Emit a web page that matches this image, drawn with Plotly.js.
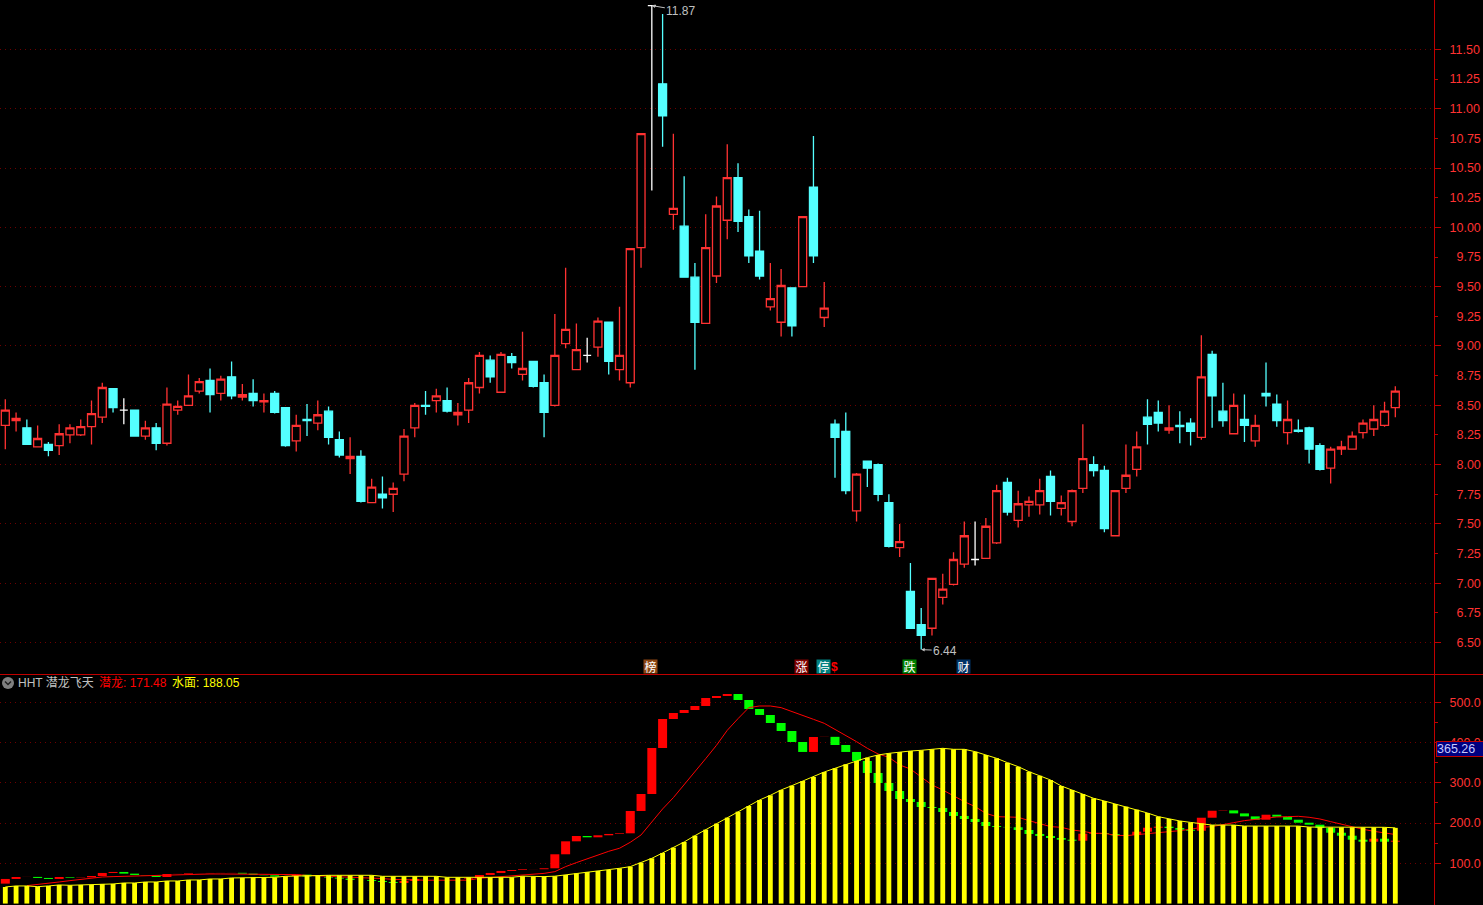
<!DOCTYPE html>
<html>
<head>
<meta charset="utf-8">
<script src="https://cdn.plot.ly/plotly-3.0.1.min.js"></script>
<style>html,body{margin:0;padding:0;background:#000;overflow:hidden}#chart{width:1483px;height:905px}</style>
</head>
<body>
<div id="chart"></div>
<script>
var openP = [
8.33,8.37,8.31,8.15,8.17,8.16,8.25,8.25,8.32,8.40,
8.64,8.46,8.46,8.24,8.31,8.18,8.46,8.50,8.62,8.71,
8.60,8.74,8.57,8.60,8.53,8.60,8.48,8.20,8.38,8.35,
8.45,8.21,8.05,8.07,7.68,7.75,7.75,7.92,8.31,8.50,
8.54,8.54,8.42,8.46,8.65,8.88,8.61,8.91,8.76,8.87,
8.69,8.50,9.02,8.80,8.92,8.99,9.20,8.80,8.69,9.83,
11.87,11.21,10.11,10.01,9.58,9.19,9.59,10.06,10.42,10.09,
9.80,9.33,9.20,9.49,9.50,10.34,9.24,8.34,8.28,7.61,
8.03,8.00,7.68,7.30,6.93,6.65,6.62,6.88,6.99,7.16,
7.20,7.21,7.34,7.85,7.53,7.66,7.66,7.90,7.63,7.52,
7.80,8.00,7.95,7.40,7.80,7.96,8.40,8.44,8.29,8.33,
8.35,8.23,8.93,8.45,8.26,8.38,8.20,8.60,8.51,8.27,
8.29,8.31,8.16,7.97,8.13,8.13,8.27,8.30,8.33,8.48];
var highP = [
8.55,8.44,8.38,8.33,8.19,8.34,8.34,8.38,8.54,8.69,
8.64,8.56,8.46,8.37,8.35,8.65,8.54,8.76,8.73,8.81,
8.75,8.87,8.68,8.72,8.60,8.62,8.48,8.42,8.51,8.54,
8.49,8.28,8.23,8.12,7.88,7.90,7.85,8.30,8.52,8.62,
8.64,8.65,8.52,8.73,8.95,8.92,8.95,8.94,9.12,8.87,
8.76,9.27,9.66,9.19,9.07,9.24,9.20,9.33,9.82,10.79,
11.87,11.80,10.79,10.43,9.70,10.11,10.26,10.70,10.54,10.15,
10.14,9.70,9.65,9.49,10.09,10.77,9.54,8.38,8.44,7.93,
8.03,8.01,7.75,7.50,7.17,6.79,7.04,7.08,7.26,7.52,
7.52,7.55,7.83,7.89,7.78,7.73,7.88,7.95,7.74,7.79,
8.34,8.07,7.99,7.78,8.17,8.28,8.55,8.54,8.50,8.45,
8.39,9.09,8.96,8.69,8.60,8.59,8.42,8.86,8.59,8.54,
8.38,8.32,8.18,8.15,8.20,8.28,8.38,8.50,8.53,8.66];
var lowP = [
8.13,8.28,8.17,8.15,8.07,8.08,8.18,8.24,8.17,8.35,
8.44,8.34,8.24,8.21,8.12,8.16,8.42,8.50,8.60,8.44,
8.54,8.55,8.54,8.49,8.44,8.43,8.15,8.11,8.24,8.29,
8.17,8.06,7.92,7.68,7.68,7.63,7.60,7.86,8.23,8.42,
8.44,8.44,8.33,8.35,8.60,8.69,8.61,8.81,8.71,8.65,
8.23,8.49,8.98,8.80,8.86,8.91,8.76,8.71,8.65,9.66,
10.31,10.68,9.98,9.58,8.80,9.19,9.53,9.90,9.96,9.70,
9.56,9.30,9.08,9.08,9.50,9.70,9.16,7.89,7.75,7.52,
7.81,7.69,7.30,7.22,6.62,6.44,6.56,6.82,6.98,7.13,
7.15,7.21,7.33,7.57,7.47,7.56,7.58,7.57,7.57,7.48,
7.76,7.90,7.43,7.40,7.76,7.90,8.17,8.28,8.26,8.18,
8.16,8.21,8.31,8.32,8.26,8.19,8.15,8.49,8.32,8.17,
8.27,8.01,7.95,7.84,8.08,8.13,8.22,8.24,8.32,8.40];
var closeP = [
8.46,8.39,8.17,8.22,8.12,8.26,8.31,8.32,8.43,8.65,
8.48,8.46,8.24,8.31,8.18,8.51,8.49,8.58,8.70,8.59,
8.72,8.58,8.59,8.54,8.54,8.44,8.16,8.33,8.37,8.42,
8.23,8.08,8.07,7.69,7.81,7.72,7.80,8.24,8.50,8.49,
8.58,8.45,8.44,8.69,8.92,8.74,8.93,8.86,8.81,8.66,
8.44,8.92,9.14,8.97,8.92,9.21,8.87,8.92,9.82,10.79,
11.87,10.94,10.16,9.58,9.20,9.83,10.18,10.42,10.05,9.76,
9.59,9.40,9.51,9.17,10.09,9.76,9.32,8.23,7.78,7.92,
7.97,7.75,7.31,7.35,6.62,6.56,7.04,6.95,7.20,7.40,
7.20,7.48,7.78,7.60,7.67,7.69,7.78,7.69,7.68,7.78,
8.05,7.95,7.46,7.78,7.91,8.15,8.34,8.35,8.31,8.32,
8.28,8.74,8.58,8.37,8.50,8.33,8.33,8.58,8.37,8.38,
8.28,8.13,7.96,8.13,8.15,8.24,8.35,8.38,8.45,8.62];
var waterLevel = [
41.2,43.7,43.7,42,43.7,46.2,45.4,46.2,46.2,48.7,
48.7,51.1,51.1,53.6,53.6,56.1,56.1,58.6,58.6,61.1,
61.1,63.6,63.6,65.2,65.2,65.2,67.7,68.5,70.2,70.2,
70.2,70.2,70.2,70.2,70.2,67.7,67.7,67.7,67.7,67.7,
67.7,65.2,65.2,65.2,65.2,65.2,65.2,65.2,68,67,
67,68,71,75,78.5,81,83.4,87.6,91.7,101.7,
112.4,125.7,138.9,153,168.7,183.6,198.5,213.4,228.3,242.4,
257.3,268.9,282.2,292.9,304.5,314.5,326.9,336,345.9,354.2,
362.5,369.1,373.2,376.6,379,380.7,383.2,385.7,383.2,383.2,
377.4,369.1,360.8,350,340.1,327.7,317.8,307,292.1,282.2,
272.2,261.5,254.8,247.4,240.8,233.3,225,215.9,210.1,205.2,
201.6,199,195,195,195,192.5,192.5,192.5,192.5,192.5,
192.5,190,190,189.4,189.4,189.4,189.4,189.4,189.4,188.05];
var dragonStart = 49.5;
var dragonBlocks = [
61.1,66,66.2,63.6,61.1,66,64.4,65.2,68.5,76,
78.5,74.3,71,70.2,66,73.5,73.7,75.2,75.4,76,
76.2,76.4,74.3,71,70.2,66.9,68.5,71.9,66.9,66.5,
64.4,61.9,58.6,58.4,56.1,53.6,51.1,56.1,61.1,61.3,
61.4,61.5,61.6,63.6,71,76,81,83.4,85.1,85.3,
87.6,122.4,154.6,167.9,164.6,169.6,172.9,174.5,230,272.2,
386.5,458.5,473.4,480.9,490.8,510.7,515.7,520.6,505.7,483.4,
468.5,448.6,428.7,401.4,376.6,413.8,414.2,393.9,376.6,354.2,
324.4,299.5,279.7,259.8,252.4,239.9,237.4,227.5,217.6,210.1,
202.7,192.7,190.3,189.5,182.8,172.9,167.9,162.9,158.6,156.1,
173.5,175.2,172.7,169.4,170.2,178.5,188.4,190.9,187.6,183.4,
180.9,213.2,230.6,231.5,224,216.6,208.3,220.7,215.7,208.3,
200.8,195.9,187.6,176,168.5,158.6,153.6,161.1,153.6,156.1];
var dragonLine = [
null,null,44.5,47,50.3,53.6,56.9,60.3,62.7,66,
66.9,67.7,68.5,70.2,70.2,71,71.9,72.7,72.7,73.5,
73.5,73.5,73.5,73.5,72.7,72.7,72.7,71.9,70,69,
68,67,66,65,64,62,60,59,58.5,58,
58,58,58,58,62.7,65,67,67.7,70,73,
75,79.3,91.7,101.7,111.6,119.9,129.8,137.3,152.2,170.4,
202.7,235,263.1,294.6,328.5,360,393.1,430.4,459.4,486.7,
490.8,490.8,486.7,477.6,466.8,457.7,447.8,432.9,417.1,402.2,
385.7,371.6,363.3,344.3,334.3,315.3,294.6,282.2,267.3,253.2,
240.8,224.2,215.9,214.3,214.3,206,197.7,191.1,189.4,182.8,
179.5,174.5,174.5,169.6,168.7,171.2,173.7,176.2,177,181.1,
184.5,189.4,191.1,195.2,201,206,209.3,212.6,215.1,215.9,
216.7,214.3,210.1,203.5,196.9,191.1,184.5,179.5,176.2,171.48];

var priceMajor = [6.5,7,7.5,8,8.5,9,9.5,10,10.5,11,11.5];
var priceMinor = [6.75,7.25,7.75,8.25,8.75,9.25,9.75,10.25,10.75,11.25];
var priceMajorText = ['\u20076.50','\u20077.00','\u20077.50','\u20078.00','\u20078.50','\u20079.00','\u20079.50','10.00','10.50','11.00','11.50'];
var priceMinorText = ['\u20076.75','\u20077.25','\u20077.75','\u20078.25','\u20078.75','\u20079.25','\u20079.75','10.25','10.75','11.25'];
var lowerTicks = [100,200,300,400,500];
var lowerText = ['100.0','200.0','300.0','400.0','500.0'];

var idx = openP.map(function(_, i){ return i; });
var fontTxt = '"Liberation Sans","Noto Sans CJK SC",sans-serif';
var RED='#ff3232', CYAN='#54ffff', AX='#c00000', GRID='#6e0000', W=1434, H=905;
var px = function(x){ return x/W; };
var py = function(y){ return (H-y)/H; };

var nonDoji = idx.filter(function(i){ return openP[i]!==closeP[i]; });
var doji = idx.filter(function(i){ return openP[i]===closeP[i]; });
var pick = function(a, ids){ return ids.map(function(i){ return a[i]; }); };

var dragonPrev = dragonBlocks.map(function(v,i){ return i===0 ? dragonStart : dragonBlocks[i-1]; });
var dragonDiff = dragonBlocks.map(function(v,i){ return v-dragonPrev[i]; });
var dragonColor = dragonDiff.map(function(d){ return d>=0 ? '#ff0000' : '#00ff00'; });

var traces = [
 {type:'candlestick', x:pick(idx,nonDoji), open:pick(openP,nonDoji), high:pick(highP,nonDoji), low:pick(lowP,nonDoji), close:pick(closeP,nonDoji),
  xaxis:'x', yaxis:'y', whiskerwidth:0,
  increasing:{line:{color:RED,width:1.3}, fillcolor:'#000000'},
  decreasing:{line:{color:CYAN,width:1.3}, fillcolor:CYAN}, hoverinfo:'skip'},
 {type:'candlestick', x:pick(idx,doji), open:pick(openP,doji), high:pick(highP,doji), low:pick(lowP,doji), close:pick(closeP,doji),
  xaxis:'x', yaxis:'y', whiskerwidth:0,
  increasing:{line:{color:'#ffffff',width:1.3}, fillcolor:'#ffffff'},
  decreasing:{line:{color:'#ffffff',width:1.3}, fillcolor:'#ffffff'}, hoverinfo:'skip'},
 {type:'scatter', x:[], y:[], xaxis:'x', yaxis:'y4', hoverinfo:'skip'},
 {type:'bar', x:idx, y:dragonDiff, base:dragonPrev, width:0.835, marker:{color:dragonColor,line:{width:0}}, xaxis:'x', yaxis:'y2', hoverinfo:'skip'},
 {type:'scatter', mode:'lines', x:idx, y:dragonLine, line:{color:'#ff0000',width:1}, xaxis:'x', yaxis:'y2', hoverinfo:'skip'},
 {type:'bar', x:idx, y:waterLevel, width:0.45, marker:{color:'#ffff00',line:{width:0}}, xaxis:'x', yaxis:'y3', hoverinfo:'skip'},
 {type:'scatter', mode:'lines', x:idx, y:waterLevel, line:{color:'#ffff00',width:1}, xaxis:'x', yaxis:'y3', hoverinfo:'skip'}
];

var splitDomain = (H-675)/H;
var mainRange = [6.226,11.917], lowerRange = [-3.6,567.8];
var tickFont = {family:fontTxt,size:12.5,color:RED};

function badge(i, text, bg){
  return {xref:'x', yref:'paper', x:i, xshift:-1, y:py(666), text:text, showarrow:false, bgcolor:bg, width:13, height:13, borderpad:0,
          font:{family:'"Noto Sans CJK SC",sans-serif',size:12,color:'#ffffff'}, xanchor:'center', yanchor:'middle'};
}
function label(x, text, color){
  return {xref:'paper', yref:'paper', x:px(x), y:py(683), text:text, showarrow:false, xanchor:'left', yanchor:'middle', borderpad:0,
          font:{family:fontTxt,size:12,color:color}};
}

var layout = {
  width:1483, height:905, paper_bgcolor:'#000', plot_bgcolor:'#000', showlegend:false, hovermode:false, dragmode:false,
  margin:{l:0,r:49,t:0,b:0,pad:0}, barmode:'overlay', boxgap:0.26, boxgroupgap:0, boxmode:'overlay',
  xaxis:{range:[-0.492,132.59], visible:false, anchor:'y2', rangeslider:{visible:false}, fixedrange:true},
  yaxis:{domain:[splitDomain,1], range:mainRange, side:'right', anchor:'x', tickmode:'array', tickvals:priceMajor, ticktext:priceMajorText,
    ticks:'outside', ticklen:6, tickwidth:1, tickcolor:AX, tickfont:tickFont, ticklabelstandoff:6,
    showline:true, linecolor:AX, linewidth:1, showgrid:true, gridcolor:GRID, griddash:'1px,4px', gridwidth:1, zeroline:false, fixedrange:true},
  yaxis4:{domain:[splitDomain,1], range:mainRange, side:'right', overlaying:'y', anchor:'x', tickmode:'array', tickvals:priceMinor, ticktext:priceMinorText,
    ticks:'outside', ticklen:3, tickwidth:1, tickcolor:AX, tickfont:tickFont, ticklabelstandoff:9,
    showline:false, showgrid:false, zeroline:false, fixedrange:true},
  yaxis2:{domain:[0,splitDomain], range:lowerRange, side:'right', anchor:'x', tickmode:'array', tickvals:lowerTicks, ticktext:lowerText,
    ticks:'outside', ticklen:6, tickwidth:1, tickcolor:AX, tickfont:tickFont, ticklabelstandoff:6,
    minor:{tickvals:[150,250,350,450], ticks:'outside', ticklen:3, tickcolor:AX, tickwidth:1, showgrid:false},
    showline:true, linecolor:AX, linewidth:1, showgrid:true, gridcolor:GRID, griddash:'1px,4px', gridwidth:1, zeroline:false, fixedrange:true},
  yaxis3:{domain:[0,splitDomain], range:lowerRange, side:'right', overlaying:'y2', anchor:'x', visible:false, fixedrange:true},
  shapes:[
    {type:'line', xref:'paper', yref:'paper', x0:0, x1:1483/W, y0:py(674.5), y1:py(674.5), line:{color:AX,width:1}},
    {type:'circle', xref:'paper', yref:'paper', x0:px(2), x1:px(14), y0:py(689), y1:py(677), fillcolor:'#808080', line:{width:0}},
    {type:'path', xref:'paper', yref:'paper', path:'M'+px(5)+','+py(681.5)+' L'+px(8)+','+py(684.5)+' L'+px(11)+','+py(681.5), line:{color:'#202020',width:1.5}}
  ],
  annotations:[
    label(17,'HHT 潜龙飞天','#c0c0c0'),
    label(98,'潜龙: 171.48','#ff0000'),
    label(171,'水面: 188.05','#ffff00'),
    badge(60,'榜','#8b4513'),
    badge(74,'涨','#800000'),
    badge(76,'停','#008080'),
    {xref:'x', yref:'paper', x:77, xshift:-1, y:py(667), text:'<b>$</b>', showarrow:false, xanchor:'center', yanchor:'middle', font:{family:fontTxt,size:12,color:'#ff0000'}},
    badge(84,'跌','#008000'),
    badge(89,'财','#003366'),
    {xref:'x', yref:'y', x:60, y:11.87, text:'11.87', showarrow:true, arrowhead:2, arrowsize:0.7, arrowwidth:1, arrowcolor:'#c0c0c0', ax:29, ay:5, standoff:0,
     font:{family:fontTxt,size:12,color:'#c0c0c0'}},
    {xref:'x', yref:'y', x:85, y:6.44, text:'6.44', showarrow:true, arrowhead:2, arrowsize:0.7, arrowwidth:1, arrowcolor:'#c0c0c0', ax:24, ay:1, standoff:0,
     font:{family:fontTxt,size:12,color:'#c0c0c0'}},
    {xref:'paper', yref:'paper', x:px(1459.5), y:py(748.5), text:'365.26', showarrow:false, bgcolor:'#000080', bordercolor:AX, borderwidth:1, borderpad:0, width:46, height:14, align:'left',
     font:{family:fontTxt,size:12.5,color:'#c8c8ff'}, xanchor:'center', yanchor:'middle'}
  ]
};

Plotly.newPlot('chart', traces, layout, {displayModeBar:false, staticPlot:true});
</script>
</body>
</html>
